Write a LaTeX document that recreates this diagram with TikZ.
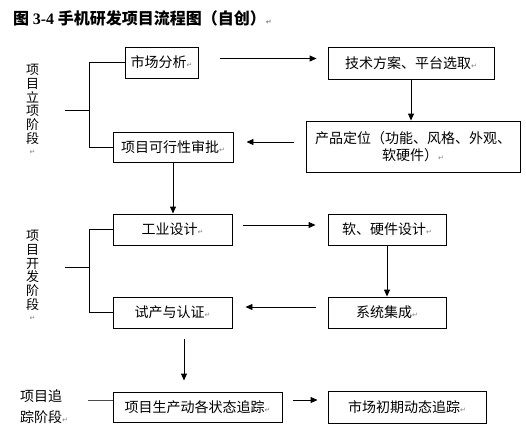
\documentclass[tikz,border=0pt]{standalone}
\usepackage{fontspec}
\setmainfont{Noto Sans CJK SC}
\newfontfamily\symfont{DejaVu Sans}
\newfontfamily\titlelatin{Liberation Serif}
\usetikzlibrary{arrows.meta,calc}
\newcommand\parmark{{\symfont\fontsize{7}{7}\selectfont\color{gray}↵}}
\begin{document}
\begin{tikzpicture}[x=1pt,y=-1pt,
  box/.style={draw, line width=0.9pt, inner sep=0pt, align=center,
    font=\fontsize{14}{17}\selectfont},
  arr/.style={-{Triangle[length=7pt,width=6pt]}, line width=0.9pt},
  brk/.style={line width=0.9pt},
  vlabel/.style={inner sep=0pt, align=center, anchor=north,
    font=\fontsize{13}{13.8}\selectfont},
  title/.style={inner sep=0pt, anchor=west, font=\fontsize{16}{18}\selectfont\bfseries}]
\useasboundingbox[fill=white] (0,0) rectangle (526,434);

% title
\node[title] (T) at (13,18) {图 {\titlelatin 3-4} 手机研发项目流程图（自创）\parmark};

% boxes
\node[box, minimum width=73pt, minimum height=31pt] (A) at (161.5,62.5) {市场分析\parmark};
\node[box, minimum width=166pt, minimum height=32pt] (B) at (411,63) {技术方案、平台选取\parmark};
\node[box, minimum width=214pt, minimum height=51pt] (C) at (413,146.5) {产品定位（功能、风格、外观、\\软硬件）\parmark};
\node[box, minimum width=120pt, minimum height=30pt] (D) at (173,147) {项目可行性审批\parmark};
\node[box, minimum width=119pt, minimum height=31pt] (E) at (172.5,229.5) {工业设计\parmark};
\node[box, minimum width=118pt, minimum height=31pt] (F) at (387,229.5) {软、硬件设计\parmark};
\node[box, minimum width=118pt, minimum height=31pt] (G) at (387,312.5) {系统集成\parmark};
\node[box, minimum width=119pt, minimum height=31pt] (H) at (172.5,312.5) {试产与认证\parmark};
\node[box, minimum width=169pt, minimum height=30pt] (I) at (197.5,407) {项目生产动各状态追踪\parmark};
\node[box, minimum width=158pt, minimum height=32pt] (J) at (407,407) {市场初期动态追踪\parmark};

% arrows
\draw[arr, shorten <=22pt, shorten >=11pt] ([yshift=4pt]A.east) -- ([yshift=4.5pt]B.west);
\draw[arr] (B.south) -- (B.south |- C.north);
\draw[arr, shorten <=12pt, shorten >=13pt] ([yshift=4.5pt]C.west) -- ([yshift=5pt]D.east);
\draw[arr] (D.south) -- (D.south |- E.north);
\draw[arr, shorten <=11pt, shorten >=12pt] ([yshift=4.5pt]E.east) -- ([yshift=4.5pt]F.west);
\draw[arr] (F.south) -- (F.south |- G.north);
\draw[arr, shorten <=12pt, shorten >=13pt] ([yshift=5.5pt]G.west) -- ([yshift=5.5pt]H.east);
\draw[arr, shorten <=11pt, shorten >=11pt] ($(H.south)+(11.5,0)$) -- ($(H.south |- I.north)+(11.5,0)$);
\draw[arr, shorten <=11pt, shorten >=10pt] ([yshift=7pt]I.east) -- ([yshift=7pt]J.west);

% brackets
\coordinate (b1) at (89,110); \coordinate (s1) at (65,110);
\draw[brk] (A.west) -- (A.west -| b1) |- (D.west);
\draw[brk] (s1) -- (b1);
\coordinate (b2) at (89,267); \coordinate (s2) at (65,267);
\draw[brk] (E.west) -- (E.west -| b2) |- (H.west);
\draw[brk] (s2) -- (b2);
\coordinate (s3) at (88,400);
\draw[brk, gray!60!black] (s3) -- ([yshift=7pt]I.west);

% phase labels
\node[vlabel] (L1) at (32.5,64) {项\\目\\立\\项\\阶\\段\\[-3.3pt]\parmark};
\node[vlabel] (L2) at (32.5,230) {项\\目\\开\\发\\阶\\段\\[-3.3pt]\parmark};
\node[inner sep=0pt, anchor=north west, align=left, font=\fontsize{14}{21.5}\selectfont] (L3) at (20,389) {项目追\\踪阶段\parmark};
\end{tikzpicture}
\end{document}
